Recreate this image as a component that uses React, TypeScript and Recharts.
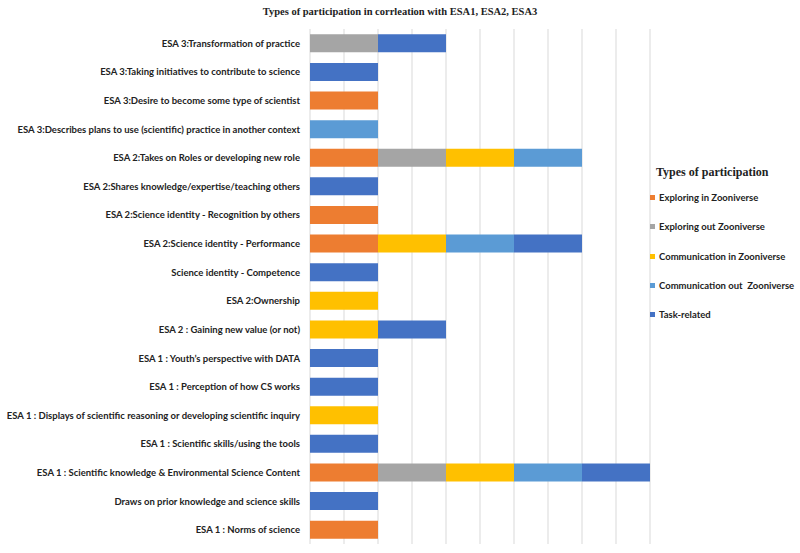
import React from "react";
import { BarChart, Bar, XAxis, YAxis, CartesianGrid, Legend } from "recharts";

const categories = [
  "ESA 3:Transformation of practice",
  "ESA 3:Taking initiatives to contribute to science",
  "ESA 3:Desire to become some type of scientist",
  "ESA 3:Describes plans to use (scientific) practice in another context",
  "ESA 2:Takes on Roles or developing new role",
  "ESA 2:Shares knowledge/expertise/teaching others",
  "ESA 2:Science identity - Recognition by others",
  "ESA 2:Science identity - Performance",
  "Science identity - Competence",
  "ESA 2:Ownership",
  "ESA 2 : Gaining new value (or not)",
  "ESA 1 : Youth\u2019s perspective with DATA",
  "ESA 1 : Perception of how CS works",
  "ESA 1 : Displays of scientific reasoning or developing scientific inquiry",
  "ESA 1 : Scientific skills/using the tools",
  "ESA 1 : Scientific knowledge & Environmental Science Content",
  "Draws on prior knowledge and science skills",
  "ESA 1 : Norms of science",
];

const exploringIn = [0, 0, 1, 0, 1, 0, 1, 1, 0, 0, 0, 0, 0, 0, 0, 1, 0, 1];
const exploringOut = [1, 0, 0, 0, 1, 0, 0, 0, 0, 0, 0, 0, 0, 0, 0, 1, 0, 0];
const communicationIn = [0, 0, 0, 0, 1, 0, 0, 1, 0, 1, 1, 0, 0, 1, 0, 1, 0, 0];
const communicationOut = [0, 0, 0, 1, 1, 0, 0, 1, 0, 0, 0, 0, 0, 0, 0, 1, 0, 0];
const taskRelated = [1, 1, 0, 0, 0, 1, 0, 1, 1, 0, 1, 1, 1, 0, 1, 1, 1, 0];

const xTicks = [0, 0.5, 1, 1.5, 2, 2.5, 3, 3.5, 4, 4.5, 5];

const seriesNames = [
  "Exploring in Zooniverse",
  "Exploring out Zooniverse",
  "Communication in Zooniverse",
  "Communication out  Zooniverse",
  "Task-related",
];
const seriesKeys = ["exploringIn", "exploringOut", "communicationIn", "communicationOut", "taskRelated"];
const seriesColors = ["#ED7D31", "#A5A5A5", "#FFC000", "#5B9BD5", "#4472C4"];

const data = categories.map((c, i) => ({
  name: c,
  exploringIn: exploringIn[i],
  exploringOut: exploringOut[i],
  communicationIn: communicationIn[i],
  communicationOut: communicationOut[i],
  taskRelated: taskRelated[i],
}));

const YTick = (props: any) => {
  const { x, y, payload } = props;
  return (
    <text
      x={x}
      y={y}
      dy={3.5}
      textAnchor="end"
      fontFamily="Lato, 'Open Sans', sans-serif"
      fontWeight="bold"
      fontSize={9.5}
      fill="#222"
    >
      {payload.value}
    </text>
  );
};

const EmptyTick = () => <g />;

const LegendContent = () => (
  <div style={{ fontFamily: "Lato, sans-serif" }}>
    <div
      style={{
        fontFamily: "'Liberation Serif', 'Times New Roman', serif",
        fontWeight: "bold",
        fontSize: 12,
        color: "#222",
        marginLeft: 6,
        height: 22,
        lineHeight: "22px",
      }}
    >
      Types of participation
    </div>
    {seriesNames.map((n, i) => (
      <div
        key={n}
        style={{ display: "flex", alignItems: "center", height: 29.3, fontSize: 9.5, fontWeight: "bold", color: "#222" }}
      >
        <span
          style={{ display: "inline-block", width: 5, height: 5, background: seriesColors[i], marginRight: 4 }}
        />
        <span style={{ whiteSpace: "pre" }}>{n}</span>
      </div>
    ))}
  </div>
);

export default function App() {
  return (
    <div style={{ position: "absolute", left: 0, top: 0, width: 800, height: 553, background: "#fff" }}>
      <div
        style={{
          position: "absolute",
          left: 0,
          top: 6,
          width: 800,
          textAlign: "center",
          fontFamily: "'Liberation Serif', 'Times New Roman', serif",
          fontWeight: "bold",
          fontSize: 10.5,
          color: "#222",
        }}
      >
        Types of participation in corrleation with ESA1, ESA2, ESA3
      </div>
      <BarChart
        width={800}
        height={553}
        data={data}
        layout="vertical"
        margin={{ top: 29, right: 0, bottom: 9, left: 0 }}
        barCategoryGap="18.5%"
      >
        <CartesianGrid horizontal={false} vertical={true} stroke="#d9d9d9" />
        <XAxis
          type="number"
          domain={[0, 5]}
          ticks={xTicks}
          tick={<EmptyTick />}
          axisLine={false}
          tickLine={false}
          height={0}
        />
        <YAxis
          type="category"
          dataKey="name"
          width={310}
          axisLine={false}
          tickLine={false}
          tickMargin={4}
          interval={0}
          tick={<YTick />}
        />
        <Legend
          layout="vertical"
          align="right"
          verticalAlign="top"
          content={<LegendContent />}
          wrapperStyle={{ position: "absolute", left: 650, top: 161, width: 150 }}
        />
        {seriesKeys.map((k, i) => (
          <Bar
            key={k}
            dataKey={k}
            name={seriesNames[i]}
            stackId="a"
            fill={seriesColors[i]}
            isAnimationActive={false}
          />
        ))}
      </BarChart>
    </div>
  );
}
